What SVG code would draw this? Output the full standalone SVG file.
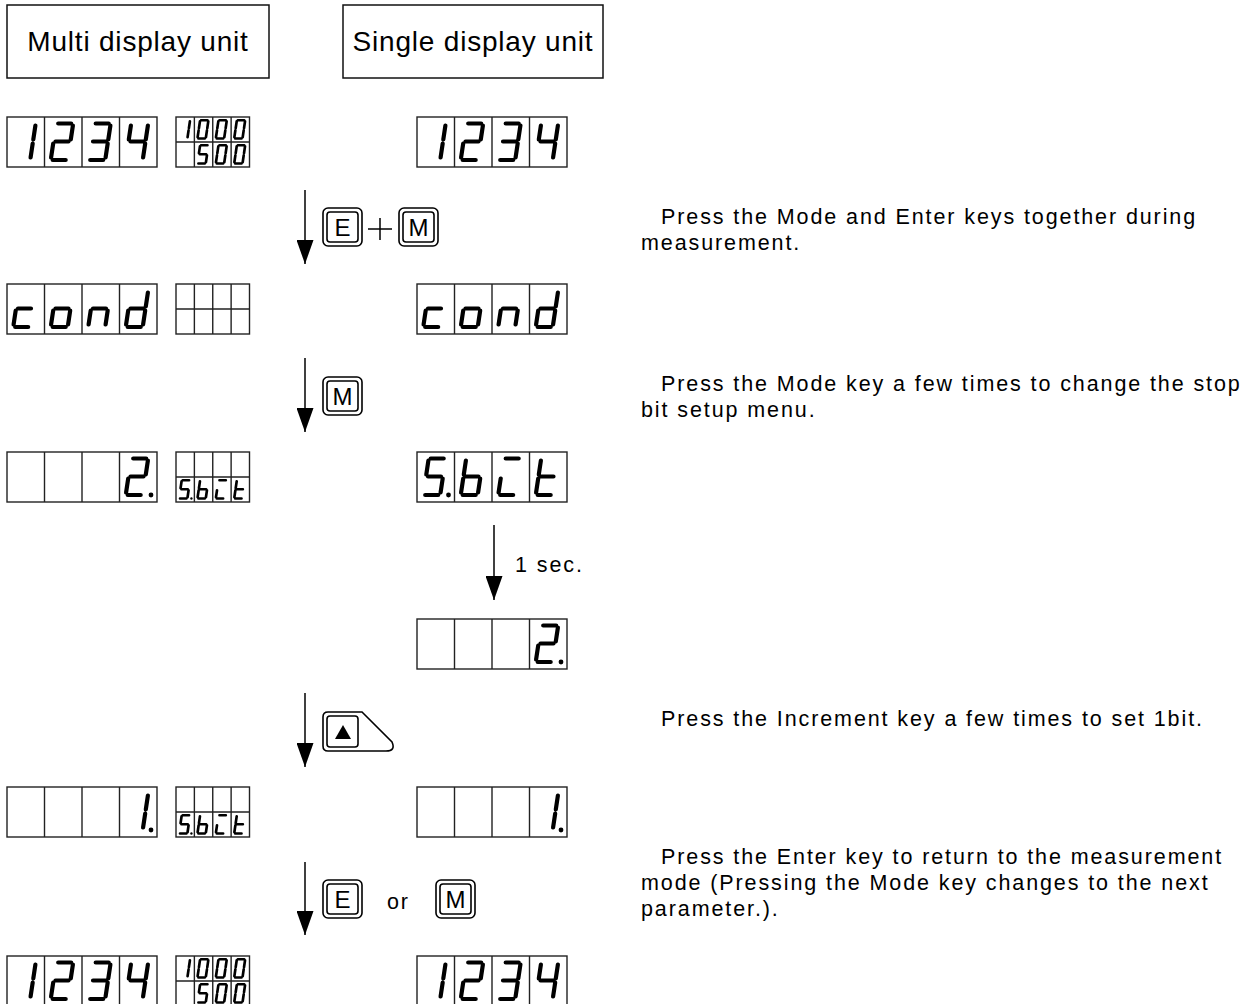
<svg xmlns="http://www.w3.org/2000/svg" width="1256" height="1004" viewBox="0 0 1256 1004">
<style>
.box{fill:#fff;stroke:#111;stroke-width:1.5}
.frame{fill:none;stroke:#222;stroke-width:1.4}
.L{fill:none;stroke:#000;stroke-width:4.2;stroke-linecap:round;stroke-linejoin:round}
.S{fill:none;stroke:#000;stroke-width:5.4;stroke-linecap:round;stroke-linejoin:round}
.dp{fill:#000;stroke:none}
.hdr{font-family:"Liberation Sans",Arial,sans-serif;font-size:28px;letter-spacing:0.8px;fill:#000;text-anchor:middle}
.txt{font-family:"Liberation Sans",Arial,sans-serif;font-size:21.5px;letter-spacing:1.9px;fill:#000}
.key{fill:#fff;stroke:#000;stroke-width:1.6}
.keyl{font-family:"Liberation Sans",Arial,sans-serif;font-size:24px;fill:#000;text-anchor:middle}
.conn{stroke:#000;stroke-width:1.5;fill:none}
</style>
<defs>
<marker id="ah" markerUnits="userSpaceOnUse" markerWidth="24" markerHeight="17" refX="24" refY="8.5" orient="auto" viewBox="0 0 24 17">
<path d="M0 0L24 8.5L0 17Z" fill="#000"/>
</marker>
<g id="big"><rect class="frame" x="0" y="0" width="150" height="50"/><path class="frame" d="M37.5 0V50M75 0V50M112.5 0V50"/></g>
<g id="small"><rect class="frame" x="0" y="0" width="73.5" height="50"/><path class="frame" d="M18.375 0V50M36.75 0V50M55.125 0V50M0 25H73.5"/></g>
<path id="g0" d="M13.7 6.5L26.7 6.5M28.4 8.5L26.3 22.5M25.7 26.5L23.6 40.5M8.2 43L21.2 43M8.7 26.5L6.6 40.5M11.4 8.5L9.3 22.5"/>
<path id="g1" d="M28.4 8.5L26.3 22.5M25.7 26.5L23.6 40.5"/>
<path id="g2" d="M13.7 6.5L26.7 6.5M28.4 8.5L26.3 22.5M11 24.5L24 24.5M8.7 26.5L6.6 40.5M8.2 43L21.2 43"/>
<path id="g3" d="M13.7 6.5L26.7 6.5M28.4 8.5L26.3 22.5M11 24.5L24 24.5M25.7 26.5L23.6 40.5M8.2 43L21.2 43"/>
<path id="g4" d="M11.4 8.5L9.3 22.5M11 24.5L24 24.5M28.4 8.5L26.3 22.5M25.7 26.5L23.6 40.5"/>
<path id="g5" d="M13.7 6.5L26.7 6.5M11.4 8.5L9.3 22.5M11 24.5L24 24.5M25.7 26.5L23.6 40.5M8.2 43L21.2 43"/>
<path id="gc" d="M11 24.5L24 24.5M8.7 26.5L6.6 40.5M8.2 43L21.2 43"/>
<path id="go" d="M11 24.5L24 24.5M25.7 26.5L23.6 40.5M8.2 43L21.2 43M8.7 26.5L6.6 40.5"/>
<path id="gn" d="M11 24.5L24 24.5M8.7 26.5L6.6 40.5M25.7 26.5L23.6 40.5"/>
<path id="gd" d="M28.4 8.5L26.3 22.5M25.7 26.5L23.6 40.5M8.2 43L21.2 43M8.7 26.5L6.6 40.5M11 24.5L24 24.5"/>
<path id="gb" d="M11.4 8.5L9.3 22.5M8.7 26.5L6.6 40.5M8.2 43L21.2 43M25.7 26.5L23.6 40.5M11 24.5L24 24.5"/>
<path id="gt" d="M11.4 8.5L9.3 22.5M8.7 26.5L6.6 40.5M8.2 43L21.2 43M11 24.5L24 24.5"/>
<path id="gx" d="M13.7 6.5L26.7 6.5M8.7 26.5L6.6 40.5M8.2 43L21.2 43"/>
<circle id="gp" class="dp" cx="31.5" cy="43" r="2.4"/>
<g id="keycap"><rect class="key" x="0" y="0" width="39" height="38" rx="5"/><rect class="key" x="4" y="4" width="31" height="30" rx="3"/></g>
<g id="smallS" class="S"><use href="#g5" transform="scale(0.49,0.5)"/><use href="#gp" transform="scale(0.49,0.5)"/><use href="#gb" transform="translate(18.375,0) scale(0.49,0.5)"/><use href="#gx" transform="translate(36.75,0) scale(0.49,0.5)"/><use href="#gt" transform="translate(55.125,0) scale(0.49,0.5)"/></g>
<g id="small1000" class="S"><use href="#g1" transform="scale(0.49,0.5)"/><use href="#g0" transform="translate(18.375,0) scale(0.49,0.5)"/><use href="#g0" transform="translate(36.75,0) scale(0.49,0.5)"/><use href="#g0" transform="translate(55.125,0) scale(0.49,0.5)"/><use href="#g5" transform="translate(18.375,25) scale(0.49,0.5)"/><use href="#g0" transform="translate(36.75,25) scale(0.49,0.5)"/><use href="#g0" transform="translate(55.125,25) scale(0.49,0.5)"/></g>
<g id="d1234"><use href="#big"/><g class="L"><use href="#g1"/><use href="#g2" x="37.5"/><use href="#g3" x="75"/><use href="#g4" x="112.5"/></g></g>
<g id="dcond"><use href="#big"/><g class="L"><use href="#gc"/><use href="#go" x="37.5"/><use href="#gn" x="75"/><use href="#gd" x="112.5"/></g></g>
<g id="dSbt"><use href="#big"/><g class="L"><use href="#g5"/><use href="#gp"/><use href="#gb" x="37.5"/><use href="#gx" x="75"/><use href="#gt" x="112.5"/></g></g>
</defs>
<rect width="1256" height="1004" fill="#fff"/>

<g id="hdr-multi"><rect class="box" x="7" y="5" width="262" height="73"/><text class="hdr" x="138" y="51">Multi display unit</text></g>
<g id="hdr-single"><rect class="box" x="343" y="5" width="260" height="73"/><text class="hdr" x="473" y="51">Single display unit</text></g>

<g id="row1-multi"><use href="#d1234" x="7" y="117"/><g transform="translate(176,117)"><use href="#small"/><use href="#small1000"/></g></g>
<g id="row1-single"><use href="#d1234" x="417" y="117"/></g>

<g id="row2-multi"><use href="#dcond" x="7" y="284"/><use href="#small" x="176" y="284"/></g>
<g id="row2-single"><use href="#dcond" x="417" y="284"/></g>

<g id="row3-multi"><g transform="translate(7,452)"><use href="#big"/><g class="L"><use href="#g2" x="112.5"/><use href="#gp" x="112.5"/></g></g><g transform="translate(176,452)"><use href="#small"/><use href="#smallS" y="25"/></g></g>
<g id="row3-single"><use href="#dSbt" x="417" y="452"/></g>

<g id="row4-single"><g transform="translate(417,619)"><use href="#big"/><g class="L"><use href="#g2" x="112.5"/><use href="#gp" x="112.5"/></g></g></g>

<g id="row5-multi"><g transform="translate(7,787)"><use href="#big"/><g class="L"><use href="#g1" x="112.5"/><use href="#gp" x="112.5"/></g></g><g transform="translate(176,787)"><use href="#small"/><use href="#smallS" y="25"/></g></g>
<g id="row5-single"><g transform="translate(417,787)"><use href="#big"/><g class="L"><use href="#g1" x="112.5"/><use href="#gp" x="112.5"/></g></g></g>

<g id="row6-multi"><use href="#d1234" x="7" y="956"/><g transform="translate(176,956)"><use href="#small"/><use href="#small1000"/></g></g>
<g id="row6-single"><use href="#d1234" x="417" y="956"/></g>

<g id="connectors">
<line class="conn" x1="305" y1="190" x2="305" y2="264" marker-end="url(#ah)"/>
<line class="conn" x1="305" y1="358" x2="305" y2="432" marker-end="url(#ah)"/>
<line class="conn" x1="494" y1="525" x2="494" y2="600" marker-end="url(#ah)"/>
<line class="conn" x1="305" y1="693" x2="305" y2="767" marker-end="url(#ah)"/>
<line class="conn" x1="305" y1="862" x2="305" y2="935" marker-end="url(#ah)"/>
</g>

<g id="keys1"><use href="#keycap" x="323" y="208"/><text class="keyl" x="342.5" y="236">E</text>
<path class="conn" d="M368 229H392M380 218V240"/>
<use href="#keycap" x="399" y="208"/><text class="keyl" x="418.5" y="236">M</text></g>
<g id="keys2"><use href="#keycap" x="323" y="377"/><text class="keyl" x="342.5" y="405">M</text></g>
<g id="label-1sec"><text class="txt" x="515" y="572">1 sec.</text></g>
<g id="keys4"><path class="key" d="M328 712L362 712L392 742Q396 751 386 751L328 751Q323 751 323 746L323 717Q323 712 328 712Z"/><rect class="key" x="327" y="716" width="31" height="31" rx="3"/><path d="M343 725L351 739L335 739Z" fill="#000"/></g>
<g id="keys5"><use href="#keycap" x="323" y="880"/><text class="keyl" x="342.5" y="908">E</text>
<text class="txt" x="387" y="909">or</text>
<use href="#keycap" x="436" y="880"/><text class="keyl" x="455.5" y="908">M</text></g>

<g id="note1"><text class="txt" x="661" y="224">Press the Mode and Enter keys together during</text><text class="txt" x="641" y="250">measurement.</text></g>
<g id="note2"><text class="txt" x="661" y="391">Press the Mode key a few times to change the stop</text><text class="txt" x="641" y="417">bit setup menu.</text></g>
<g id="note3"><text class="txt" x="661" y="726">Press the Increment key a few times to set 1bit.</text></g>
<g id="note4"><text class="txt" x="661" y="864">Press the Enter key to return to the measurement</text><text class="txt" x="641" y="890">mode (Pressing the Mode key changes to the next</text><text class="txt" x="641" y="916">parameter.).</text></g>
</svg>
